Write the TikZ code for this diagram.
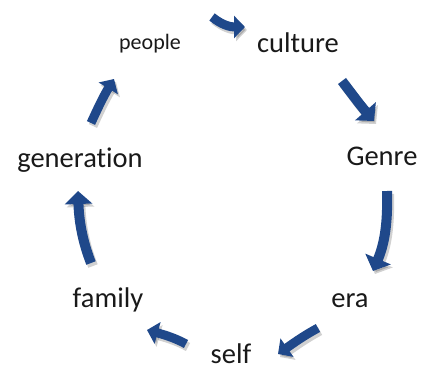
\documentclass[tikz,border=0pt]{standalone}
\usepackage{fontspec}
\setmainfont{Carlito}[Ligatures=CommonOff]
\usetikzlibrary{arrows.meta}
\definecolor{arrblue}{RGB}{31,72,138}
\definecolor{txt}{RGB}{25,25,25}
\tikzset{
  lbl/.style={anchor=base, text=txt, inner sep=0pt, font=\fontsize{28.5}{30}\selectfont},
  smalllbl/.style={anchor=base, text=txt, inner sep=0pt, font=\fontsize{22}{24}\selectfont},
  bigarr/.style={draw=arrblue, line width=10pt, -{Triangle[width=27pt,length=13pt]}},
  smallarr/.style={draw=arrblue, line width=9pt, -{Triangle[width=22pt,length=11pt]}},
  shadowarr/.style={draw=black, opacity=0.18, shift={(2pt,-3pt)}},
}
\newcommand{\blockarrow}[2]{%
  \draw[#1, shadowarr] #2;
  \draw[#1] #2;
}
\begin{document}
\begin{tikzpicture}[x=1pt,y=-1pt]
\useasboundingbox (0,0) rectangle (423,369);
% labels
\node[smalllbl] (people) at (150,50) {people};
\node[lbl] (culture) at (298,53) {culture};
\node[lbl] (genre) at (382,165) {Genre};
\node[lbl] (era) at (350,307) {era};
\node[lbl] (self) at (231,363) {self};
\node[lbl] (family) at (108,307) {family};
\node[lbl] (generation) at (80,167) {generation};
% arrows
\blockarrow{smallarr}{(212,17) .. controls (222,25) and (230,27) .. (245,27)}
\blockarrow{bigarr}{(342,81) .. controls (352,94) and (360,105) .. (374,121)}
\blockarrow{bigarr}{(387,191) .. controls (388,225) and (384,245) .. (373,271)}
\blockarrow{smallarr}{(318,328) .. controls (305,335) and (295,342) .. (278,354)}
\blockarrow{smallarr}{(186,344) .. controls (175,338) and (165,335) .. (147,330)}
\blockarrow{bigarr}{(91,263) .. controls (82,240) and (79,220) .. (78,191)}
\blockarrow{smallarr}{(91,123) .. controls (97,110) and (103,97) .. (114,79)}
\end{tikzpicture}
\end{document}
